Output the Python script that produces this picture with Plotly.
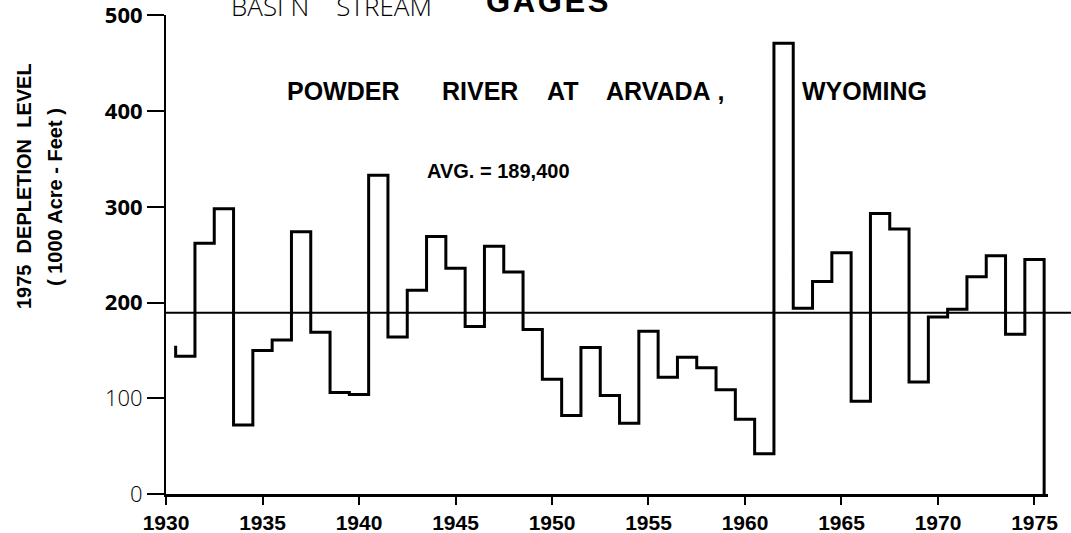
import plotly.graph_objects as go

# ---- data ----
years = list(range(1931, 1976))
depletion = [144, 262, 298, 72, 150, 161, 274, 169, 106, 104,
             333, 164, 213, 269, 236, 175, 259, 232, 172, 120,
             82, 153, 103, 74, 170, 122, 143, 132, 109, 78,
             42, 471, 194, 222, 252, 97, 293, 277, 117, 185,
             193, 227, 249, 167, 245]
start_level = 155          # small stub drawn at the start of the record
average = 189.4            # AVG. = 189,400 acre-feet

x_tick_vals = [1930, 1935, 1940, 1945, 1950, 1955, 1960, 1965, 1970, 1975]
x_tick_text = ["1930", "1935", "1940", "1945", "1950", "1955", "1960", "1965", "1970", "1975"]
y_tick_vals = [0, 100, 200, 300, 400, 500]
y_tick_text = ["0", "100", "200", "300", "400", "500"]

# ---- step line: each year's value spans year-0.5 .. year+0.5 ----
step_x = [years[0] - 0.5] + [y - 0.5 for y in years] + [years[-1] + 0.5]
step_y = [start_level] + depletion + [0]

BOLD = "Liberation Sans, Arial, sans-serif"
THIN = "Open Sans, Noto Sans, sans-serif"

fig = go.Figure()
fig.add_trace(go.Scatter(
    x=step_x, y=step_y, mode="lines",
    line=dict(color="black", width=3, shape="hv"),
    hoverinfo="skip", showlegend=False,
))

# average line, reaching the right edge of the page
fig.add_shape(type="line", xref="paper", yref="y", x0=0, x1=1.027,
              y0=average, y1=average, line=dict(color="black", width=2))

def ytick_label(v, t):
    if v >= 200:
        return f"<b>{t}</b>"
    return t

fig.update_layout(
    width=1071, height=533,
    margin=dict(l=166, r=23, t=15, b=39, autoexpand=False),
    paper_bgcolor="white", plot_bgcolor="white",
    xaxis=dict(range=[1930, 1975.7], tickvals=x_tick_vals, ticktext=x_tick_text,
               ticks="outside", ticklen=8, tickwidth=2, tickcolor="black",
               showline=True, linewidth=3, linecolor="black",
               showgrid=False, zeroline=False, automargin=False,
               ticklabeloverflow="allow",
               tickfont=dict(family=BOLD, size=21, color="black", weight="bold")),
    yaxis=dict(range=[0, 500.5], tickvals=y_tick_vals,
               ticktext=[ytick_label(v, t) for v, t in zip(y_tick_vals, y_tick_text)],
               ticks="outside", ticklen=17, tickwidth=2, tickcolor="black",
               showline=True, linewidth=2, linecolor="black",
               showgrid=False, zeroline=False, automargin=False,
               ticklabeloverflow="allow",
               tickfont=dict(family=THIN, size=22, color="black", weight=300)),
)

def ann(text, x, y, size, family=BOLD, bold=True, xanchor="left", angle=0, weight=None):
    f = dict(family=family, size=size, color="black")
    if weight is not None:
        f["weight"] = weight
    fig.add_annotation(
        text=(f"<b>{text}</b>" if bold else text), xref="paper", yref="paper",
        x=x, y=y, xanchor=xanchor, yanchor="middle", showarrow=False,
        textangle=angle, font=f)

def px(xp):
    return (xp - 166) / 882

def py(yp):
    return (494 - yp) / 479

NB = "\u00a0"
HS = "\u200a"
# cropped page title
ann("BASI" + NB + "N" + NB * 4 + "STREAM", px(229), py(6), 26, family=THIN, bold=False, weight=300)
ann(HS.join("GAGES"), px(484), py(1), 31)
# station name
ann("POWDER", px(285), py(91), 25)
ann("RIVER", px(440), py(91), 25)
ann("AT", px(545), py(91), 25)
ann("ARVADA" + NB + ",", px(604), py(91), 25)
ann("WYOMING", px(800), py(91), 25)
ann("AVG." + NB + "=" + NB + "189,400", px(425), py(171), 20)
# y-axis title
ann("1975" + NB * 2 + "DEPLETION" + NB * 2 + "LEVEL", px(24), py(186), 20,
    xanchor="center", angle=-90)
ann("(" + NB + "1000" + NB + "Acre" + NB + "-" + NB + "Feet" + NB + ")", px(55), py(197), 20,
    xanchor="center", angle=-90)

fig.write_html("out.html", config={"displayModeBar": False},
               post_script="document.body.style.margin='0';document.body.style.padding='0';")
